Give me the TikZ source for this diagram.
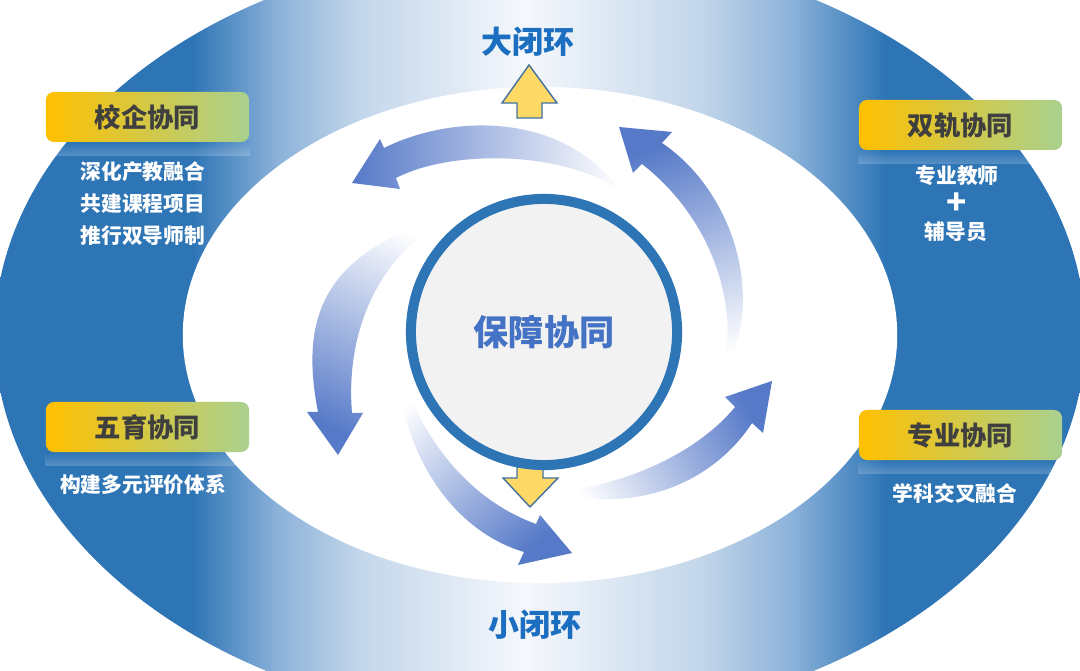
\documentclass[tikz,border=0pt]{standalone}
\usepackage{fontspec}
\newfontfamily\cjk{Noto Sans CJK SC}
\usetikzlibrary{fadings}
\definecolor{ringblue}{HTML}{2E75B6}
\definecolor{ringmid}{HTML}{8DB3DA}
\definecolor{ringlight}{HTML}{C3D6EA}
\definecolor{ringpale}{HTML}{F5F8FC}
\definecolor{swirlblue}{HTML}{5679C8}
\definecolor{hubgray}{HTML}{F2F2F2}
\definecolor{hubblue}{HTML}{4472C4}
\definecolor{loopblue}{HTML}{1C6EC0}
\definecolor{boxgold}{HTML}{FFC000}
\definecolor{boxgreen}{HTML}{A9D18E}
\definecolor{titlegray}{HTML}{3F3F3F}
\definecolor{goldfill}{HTML}{FFD966}
\definecolor{goldline}{HTML}{41719C}
\pgfdeclarehorizontalshading{ringshade}{100bp}{color(0bp)=(ringblue); color(34.08bp)=(ringblue); color(38.07bp)=(ringmid); color(41.74bp)=(ringlight); color(49.31bp)=(ringpale); color(57.34bp)=(ringlight); color(61.47bp)=(ringmid); color(65.83bp)=(ringblue); color(100bp)=(ringblue)}
\tikzset{
	node_title/.style = {
		rectangle,
		rounded corners=0.08cm,
		left color=boxgold,
		right color=boxgreen,
		minimum width=2.03cm,
		minimum height=0.5cm,
		inner sep=0pt,
		text=titlegray,
		font=\cjk\bfseries\fontsize{7.5pt}{9pt}\selectfont
	},
	node_text/.style = {
		inner sep=0pt,
		align=left,
		text=white,
		font=\cjk\bfseries\fontsize{5.9pt}{9.1pt}\selectfont
	},
	node_plus/.style = {
		node_text,
		font=\cjk\bfseries\fontsize{9.5pt}{9.5pt}\selectfont
	},
	node_loop/.style = {
		inner sep=0pt,
		text=loopblue,
		font=\cjk\bfseries\fontsize{8.8pt}{10pt}\selectfont
	},
	node_hub/.style = {
		circle,
		fill=hubgray,
		draw=ringblue,
		line width=2.85pt,
		minimum size=2.66cm,
		inner sep=0pt,
		text=hubblue,
		font=\cjk\bfseries\fontsize{10pt}{12pt}\selectfont
	},
	arrow_swirl/.style = {
		top color=white,
		bottom color=swirlblue,
		shading angle=#1
	},
	arrow_gold/.style = {
		fill=goldfill,
		draw=goldline,
		line width=0.4pt
	},
}
\begin{document}
\begin{tikzpicture}[x=0.01cm, y=0.01cm]
\useasboundingbox (0,0) rectangle (1080,671);
\begin{scope}
\clip (0,0) rectangle (1080,671);
\shade[shading=ringshade] (540,336) ellipse [x radius=5.45cm, y radius=3.88cm];
\end{scope}
\fill[white] (540,336) ellipse [x radius=3.57cm, y radius=2.48cm];

\shade[arrow_swirl=-90] (620,481) .. controls (560,521) and (450,521) .. (396,493) -- (400,482) -- (352,488) -- (380,532) -- (384,523) .. controls (450,556) and (560,561) .. (620,481) -- cycle;
\shade[arrow_swirl=-160] (722,298) .. controls (740,360) and (715,450) .. (642,507) -- (633,498) -- (619,544) -- (672,539) -- (662,528) .. controls (740,475) and (765,360) .. (722,298) -- cycle;
\shade[arrow_swirl=-26] (455,456) .. controls (380,421) and (345,341) .. (352,258) -- (363,258) -- (338,216) -- (307,259) -- (318,259) .. controls (300,351) and (320,421) .. (455,456) -- cycle;
\shade[arrow_swirl=42] (397,311) .. controls (420,231) and (470,171) .. (536,147) -- (540,156) -- (572,118) -- (518,106) -- (524,119) .. controls (450,141) and (400,221) .. (397,311) -- cycle;
\shade[arrow_swirl=117] (555,179) .. controls (630,186) and (700,221) .. (735,264) -- (725,274) -- (772,290) -- (763,238) -- (752,248) .. controls (715,191) and (640,156) .. (555,179) -- cycle;

\draw[arrow_gold] (517,553) -- (517,568) -- (502,568) -- (529,606) -- (557,568) -- (542,568) -- (542,553) -- cycle;
\draw[arrow_gold] (517,204) -- (517,193) -- (503,193) -- (530,164) -- (558,193) -- (543,193) -- (543,204) -- cycle;

\node [node_hub] (hub) at (544,339) {保障协同};
\node [node_loop] (big) at (528,629) {大闭环};
\node [node_loop] (small) at (535,46) {小闭环};

\node [node_title] (xq) at (147.5,554) {校企协同};
\node [node_title] (sg) at (960.5,546) {双轨协同};
\node [node_title] (wy) at (147.5,244) {五育协同};
\node [node_title] (zy) at (960.5,236) {专业协同};
\foreach \b in {xq,sg,wy,zy}
	\fill[white, opacity=0.2, path fading=north] (\b.south west) rectangle ([yshift=-0.13cm]\b.south east);

\node [node_text, anchor=west] (xq_text) at (80,467) {深化产教融合\\共建课程项目\\推行双导师制};
\node [node_text] (sg_text) at (957,495) {专业教师};
\node [node_plus] (sg_plus) at (957,467) {+};
\node [node_text] (sg_more) at (956,439) {辅导员};
\node [node_text] (wy_text) at (143,186) {构建多元评价体系};
\node [node_text] (zy_text) at (955,178) {学科交叉融合};
\end{tikzpicture}
\end{document}
